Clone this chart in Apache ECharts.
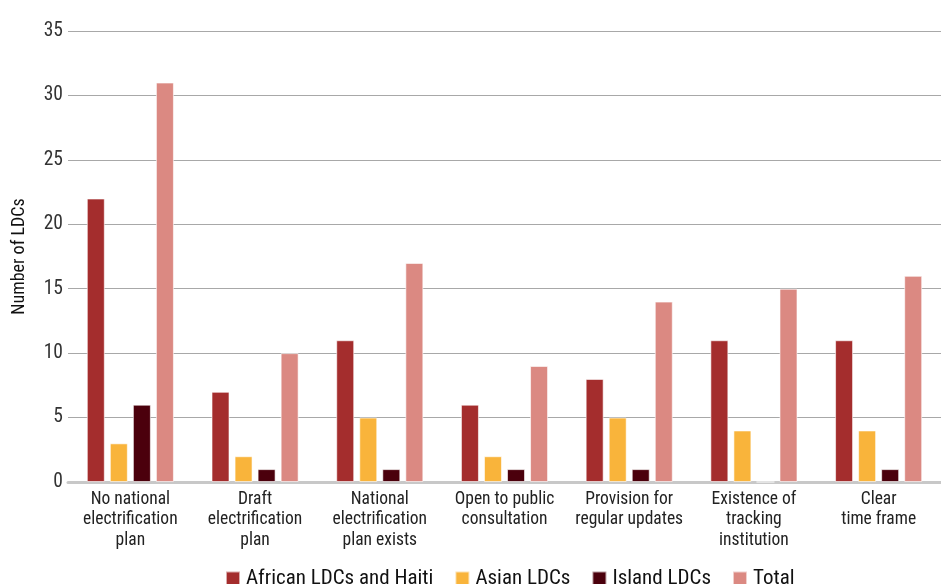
<!DOCTYPE html>
<html><head><meta charset="utf-8">
<script src="https://cdn.jsdelivr.net/npm/echarts@6/dist/echarts.min.js"></script>
<style>html,body{margin:0;padding:0;background:#fff}#c{width:941px;height:584px}</style>
</head><body><div id="c"></div>
<script>
var categories = ['No national\nelectrification\nplan','Draft\nelectrification\nplan','National\nelectrification\nplan exists','Open to public\nconsultation','Provision for\nregular updates','Existence of\ntracking\ninstitution','Clear\ntime frame'];
var african = [22, 7, 11, 6, 8, 11, 11];
var asian = [3, 2, 5, 2, 5, 4, 4];
var island = [6, 1, 1, 1, 1, 0, 1];
var total = [31, 10, 17, 9, 14, 15, 16];
var yTicks = [0, 5, 10, 15, 20, 25, 30, 35];

var FONT = '"Roboto Condensed", "Roboto", sans-serif';
var chart = echarts.init(document.getElementById('c'));
function s(name, data, color){
  return {name:name, type:'bar', data:data, barWidth:18, barGap:'28%',
    itemStyle:{color:color, borderColor:'rgba(255,255,255,0.6)', borderWidth:1}};
}
chart.setOption({
  animation:false,
  textStyle:{fontFamily:FONT},
  grid:{left:68, right:0, top:31, bottom:102, containLabel:false},
  legend:{top:563, left:220, itemWidth:14, itemHeight:14, itemGap:21, icon:'rect',
    textStyle:{fontFamily:FONT, fontSize:21, color:'#111', padding:[0,0,0,1]},
    data:['African LDCs and Haiti','Asian LDCs','Island LDCs','Total']},
  xAxis:{type:'category', data:categories,
    axisLine:{lineStyle:{color:'#c8c8c8', width:3}}, axisTick:{show:false},
    axisLabel:{fontFamily:FONT, fontSize:17.5, color:'#222', lineHeight:20.5, interval:0, margin:7}},
  yAxis:{type:'value', min:yTicks[0], max:yTicks[yTicks.length-1], interval:5,
    name:'Number of LDCs', nameLocation:'middle', nameGap:40, nameRotate:90,
    nameTextStyle:{fontFamily:FONT, fontSize:18, color:'#111'},
    axisLine:{show:false}, axisTick:{show:false},
    axisLabel:{fontFamily:FONT, fontSize:19.5, color:'#333', margin:5},
    splitLine:{lineStyle:{color:'#a8a8a8', width:1.2}}},
  series:[s('African LDCs and Haiti', african, '#A42D2D'), s('Asian LDCs', asian, '#F9B43B'),
          s('Island LDCs', island, '#4B000C'), s('Total', total, '#DB8982')]
});
</script></body></html>
